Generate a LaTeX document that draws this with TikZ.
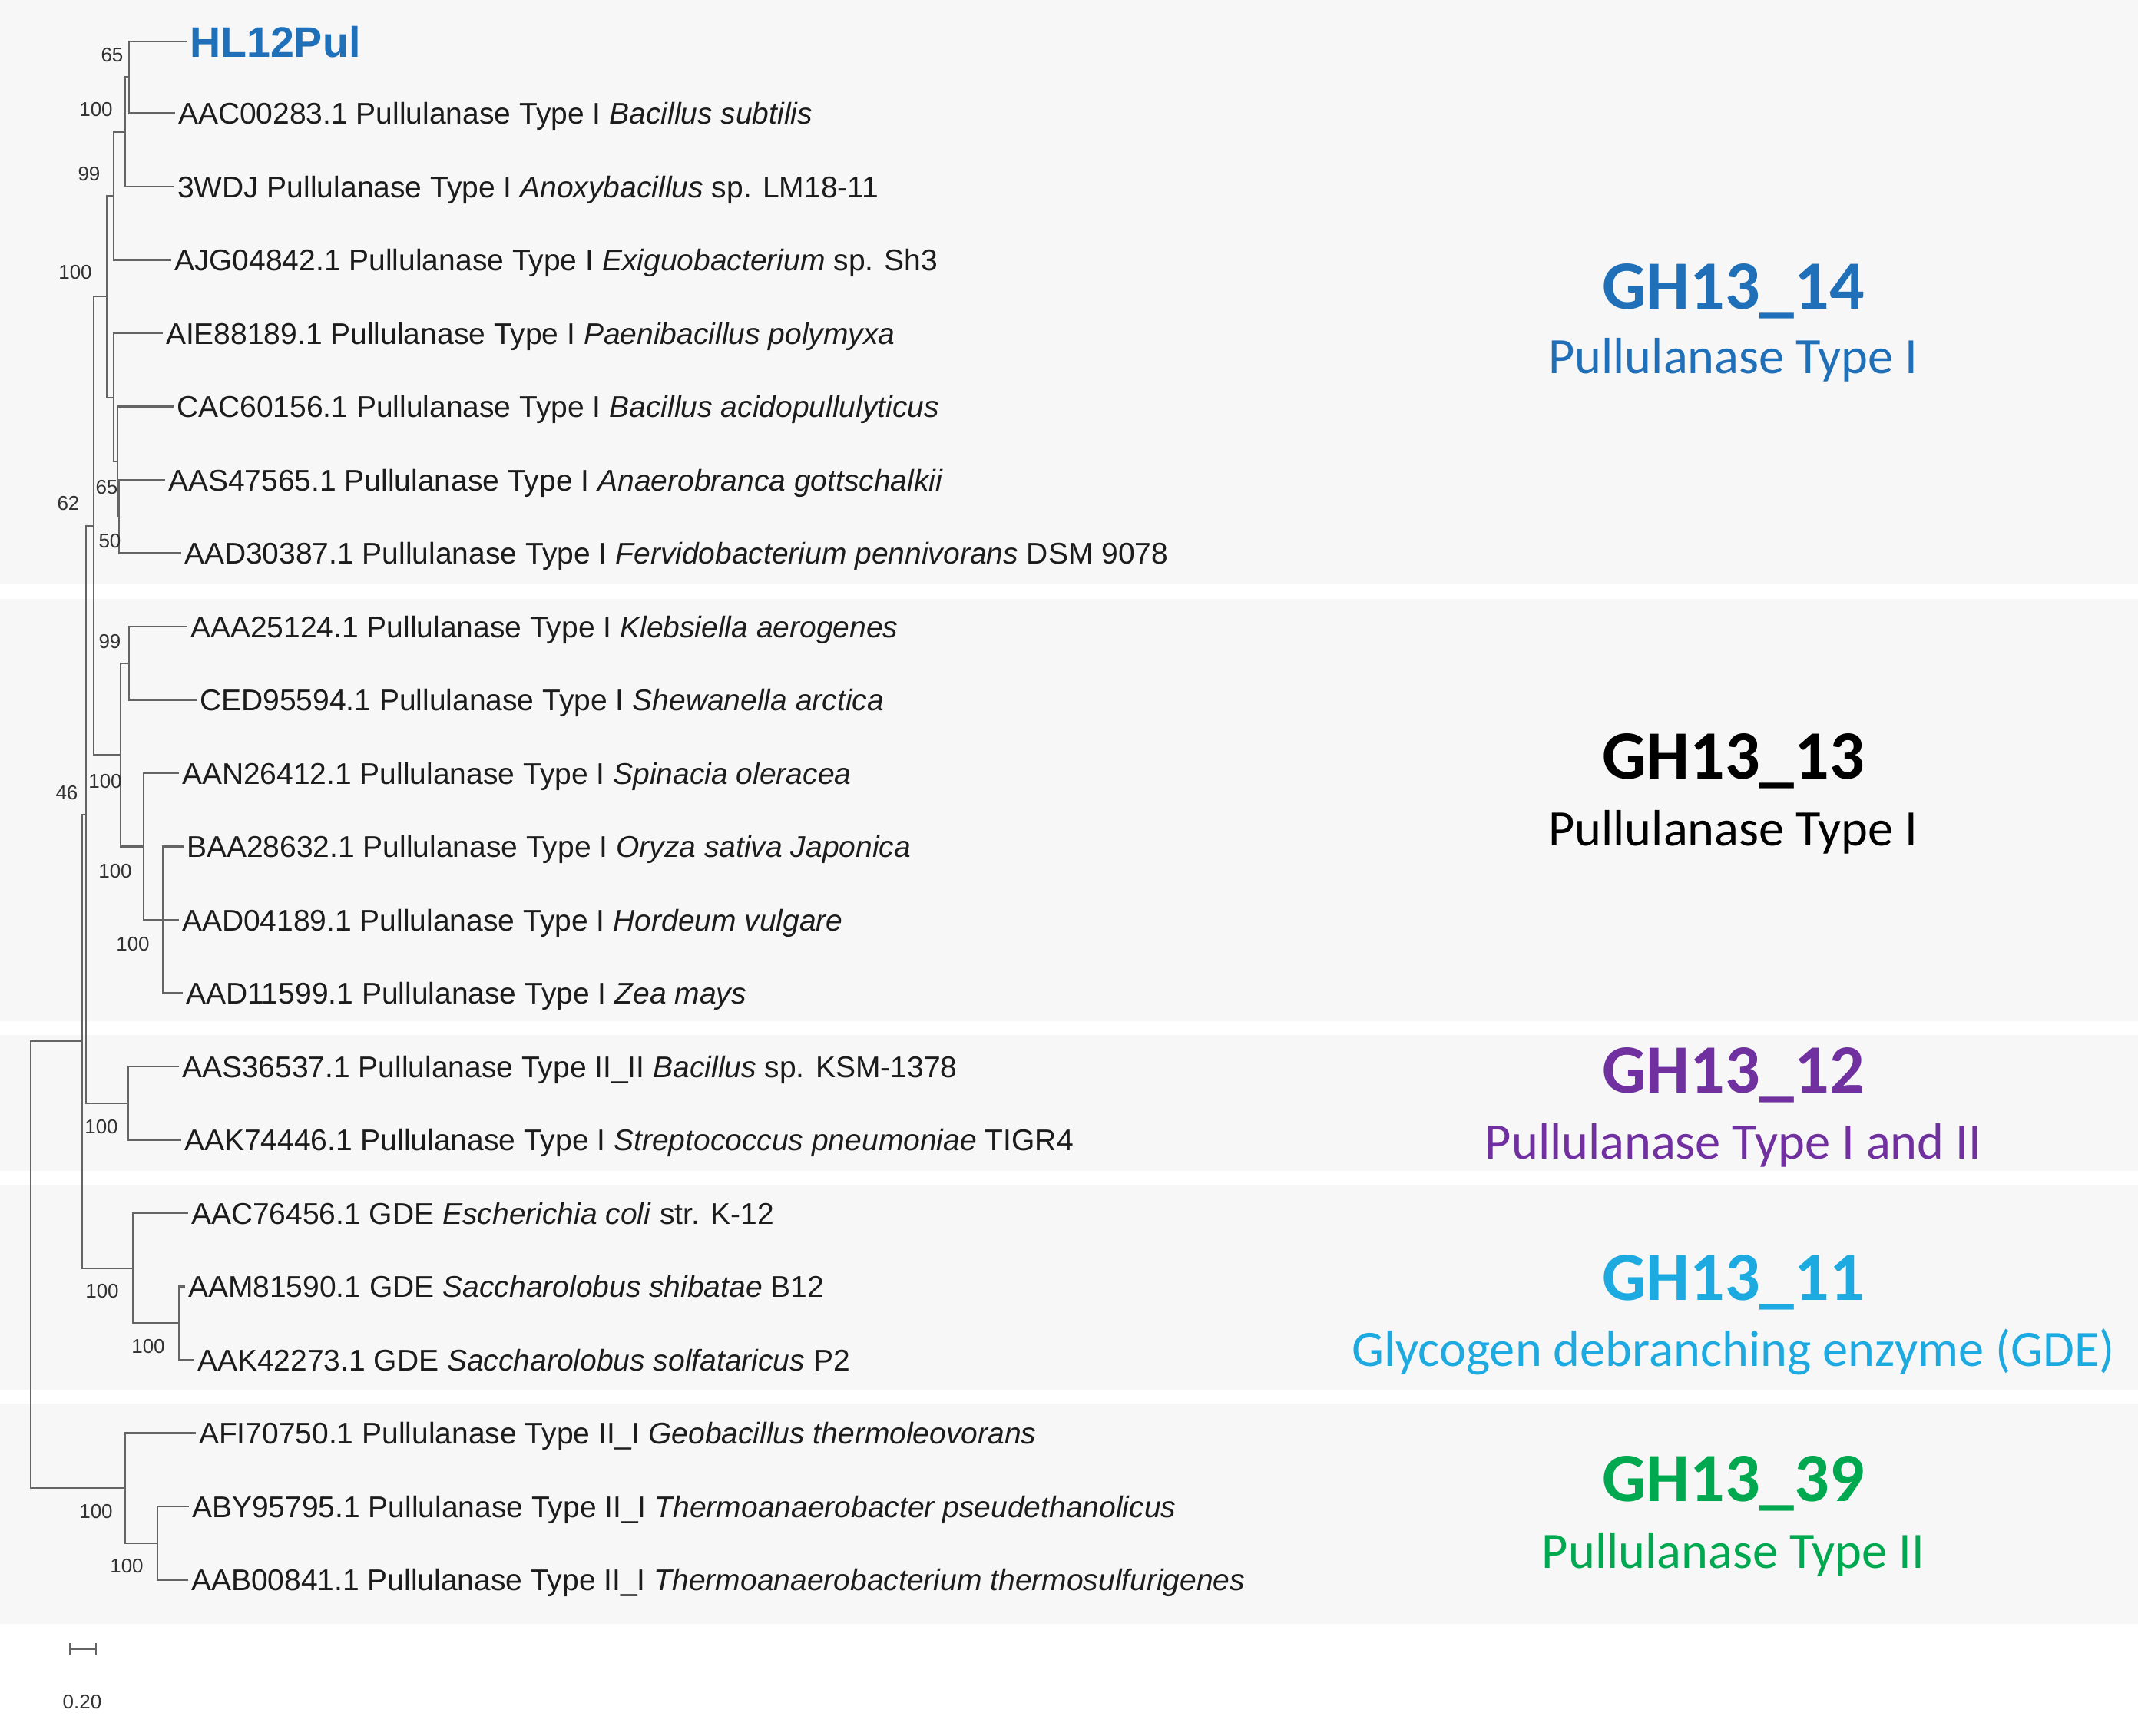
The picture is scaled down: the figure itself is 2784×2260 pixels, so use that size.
\documentclass[tikz,border=0pt]{standalone}
\usepackage{fontspec}
\setmainfont{Liberation Sans}
\newfontfamily\carlitofont{Carlito}
\definecolor{bandgray}{RGB}{247,247,247}
\definecolor{brgray}{RGB}{100,100,100}
\definecolor{txt}{RGB}{28,28,28}
\definecolor{bsgray}{RGB}{50,50,50}
\definecolor{cblue}{RGB}{31,112,184}
\definecolor{ccyan}{RGB}{28,170,225}
\definecolor{cpurple}{RGB}{112,48,160}
\definecolor{cgreen}{RGB}{0,168,80}
\begin{document}
\begin{tikzpicture}[x=0.25pt,y=-0.25pt,
  br/.style={draw=brgray,line width=0.55pt},
  leaf/.style={anchor=west,inner sep=0pt,outer xsep=1pt,outer ysep=0pt,text=txt,
    font=\fontsize{9.75}{11}\selectfont,text height=7pt,text depth=0pt},
  bs/.style={inner sep=0pt,text=bsgray,font=\fontsize{6.5}{7}\selectfont},
  ctitle/.style={inner sep=0pt,font=\carlitofont\bfseries\fontsize{22.5}{26}\selectfont,text height=14.5pt,text depth=0pt},
  csub/.style={inner sep=0pt,font=\carlitofont\fontsize{16.6}{19}\selectfont,text height=10.7pt,text depth=0pt}]
\useasboundingbox (0,0) rectangle (2784,2260);
\fill[white] (0,0) rectangle (2784,2260);
% background bands
\fill[bandgray] (0,0) rectangle (2784,760);
\fill[bandgray] (0,780) rectangle (2784,1330);
\fill[bandgray] (0,1348) rectangle (2784,1525);
\fill[bandgray] (0,1543) rectangle (2784,1810);
\fill[bandgray] (0,1828) rectangle (2784,2115);

% leaves
\node[leaf,text height=10pt,text=cblue,font=\bfseries\fontsize{13.9}{16}\selectfont] (l0) at (243,54) {HL12Pul};
\node[leaf] (l1) at (228,147.5) {AAC00283.1 Pullulanase Type I \textit{Bacillus subtilis}};
\node[leaf] (l2) at (227,243) {3WDJ Pullulanase Type I \textit{Anoxybacillus} sp. LM18-11};
\node[leaf] (l3) at (223,338.5) {AJG04842.1 Pullulanase Type I \textit{Exiguobacterium} sp. Sh3};
\node[leaf] (l4) at (212,434) {AIE88189.1 Pullulanase Type I \textit{Paenibacillus polymyxa}};
\node[leaf] (l5) at (226,529.5) {CAC60156.1 Pullulanase Type I \textit{Bacillus acidopullulyticus}};
\node[leaf] (l6) at (215,625) {AAS47565.1 Pullulanase Type I \textit{Anaerobranca gottschalkii}};
\node[leaf] (l7) at (236,720.5) {AAD30387.1 Pullulanase Type I \textit{Fervidobacterium pennivorans} DSM 9078};
\node[leaf] (l8) at (244,816) {AAA25124.1 Pullulanase Type I \textit{Klebsiella aerogenes}};
\node[leaf] (l9) at (256,911.5) {CED95594.1 Pullulanase Type I \textit{Shewanella arctica}};
\node[leaf] (l10) at (233,1007) {AAN26412.1 Pullulanase Type I \textit{Spinacia oleracea}};
\node[leaf] (l11) at (239,1102.5) {BAA28632.1 Pullulanase Type I \textit{Oryza sativa Japonica}};
\node[leaf] (l12) at (233,1198) {AAD04189.1 Pullulanase Type I \textit{Hordeum vulgare}};
\node[leaf] (l13) at (238,1293.5) {AAD11599.1 Pullulanase Type I \textit{Zea mays}};
\node[leaf] (l14) at (233,1389) {AAS36537.1 Pullulanase Type II\_II \textit{Bacillus} sp. KSM-1378};
\node[leaf] (l15) at (236,1484.5) {AAK74446.1 Pullulanase Type I \textit{Streptococcus pneumoniae} TIGR4};
\node[leaf] (l16) at (245,1580) {AAC76456.1 GDE \textit{Escherichia coli} str. K-12};
\node[leaf] (l17) at (241,1675.5) {AAM81590.1 GDE \textit{Saccharolobus shibatae} B12};
\node[leaf] (l18) at (253,1771) {AAK42273.1 GDE \textit{Saccharolobus solfataricus} P2};
\node[leaf] (l19) at (255,1866.5) {AFI70750.1 Pullulanase Type II\_I \textit{Geobacillus thermoleovorans}};
\node[leaf] (l20) at (246,1962) {ABY95795.1 Pullulanase Type II\_I \textit{Thermoanaerobacter pseudethanolicus}};
\node[leaf] (l21) at (245,2057.5) {AAB00841.1 Pullulanase Type II\_I \textit{Thermoanaerobacterium thermosulfurigenes}};

% internal nodes
\coordinate (a1) at (168,99.75);
\coordinate (a2) at (163,171.4);
\coordinate (a3) at (148,255);
\coordinate (b4) at (155,672.75);
\coordinate (b3) at (153,601.1);
\coordinate (b2) at (148,517.6);
\coordinate (a4) at (139,386.3);
\coordinate (c2) at (168,863.75);
\coordinate (c4) at (212,1198);
\coordinate (c3) at (187,1102.5);
\coordinate (c1) at (157,983.1);
\coordinate (d1) at (122,684.7);
\coordinate (e1) at (167,1436.75);
\coordinate (d2) at (112,1060.7);
\coordinate (f2) at (233,1723.25);
\coordinate (f1) at (173,1651.6);
\coordinate (d3) at (107,1356.2);
\coordinate (g2) at (205,2009.75);
\coordinate (g1) at (163,1938.1);
\coordinate (root) at (40,1647.2);

% branches
\draw[br] (a1) |- (l0.west);
\draw[br] (a1) |- (l1.west);
\draw[br] (a2) |- (a1);
\draw[br] (a2) |- (l2.west);
\draw[br] (a3) |- (a2);
\draw[br] (a3) |- (l3.west);
\draw[br] (b4) |- (l6.west);
\draw[br] (b4) |- (l7.west);
\draw[br] (b3) |- (l5.west);
\draw[br] (b3) |- (b4);
\draw[br] (b2) |- (l4.west);
\draw[br] (b2) |- (b3);
\draw[br] (a4) |- (a3);
\draw[br] (a4) |- (b2);
\draw[br] (c2) |- (l8.west);
\draw[br] (c2) |- (l9.west);
\draw[br] (c4) |- (l11.west);
\draw[br] (c4) |- (l12.west);
\draw[br] (c4) |- (l13.west);
\draw[br] (c3) |- (l10.west);
\draw[br] (c3) |- (c4);
\draw[br] (c1) |- (c2);
\draw[br] (c1) |- (c3);
\draw[br] (d1) |- (a4);
\draw[br] (d1) |- (c1);
\draw[br] (e1) |- (l14.west);
\draw[br] (e1) |- (l15.west);
\draw[br] (d2) |- (d1);
\draw[br] (d2) |- (e1);
\draw[br] (f2) |- (l17.west);
\draw[br] (f2) |- (l18.west);
\draw[br] (f1) |- (l16.west);
\draw[br] (f1) |- (f2);
\draw[br] (d3) |- (d2);
\draw[br] (d3) |- (f1);
\draw[br] (g2) |- (l20.west);
\draw[br] (g2) |- (l21.west);
\draw[br] (g1) |- (l19.west);
\draw[br] (g1) |- (g2);
\draw[br] (root) |- (d3);
\draw[br] (root) |- (g1);

% bootstrap values
\node[bs] (bs1) at (146,72) {65};
\node[bs] (bs2) at (125,143) {100};
\node[bs] (bs3) at (116,227) {99};
\node[bs] (bs4) at (98,355) {100};
\node[bs] (bs5) at (139,635) {65};
\node[bs] (bs6) at (143,705) {50};
\node[bs] (bs7) at (89,656) {62};
\node[bs] (bs8) at (143,836) {99};
\node[bs] (bs9) at (137,1018) {100};
\node[bs] (bs10) at (87,1033) {46};
\node[bs] (bs11) at (150,1135) {100};
\node[bs] (bs12) at (173,1230) {100};
\node[bs] (bs13) at (132,1468) {100};
\node[bs] (bs14) at (133,1682) {100};
\node[bs] (bs15) at (193,1754) {100};
\node[bs] (bs16) at (125,1969) {100};
\node[bs] (bs17) at (165,2040) {100};

% scale bar
\coordinate (sb1) at (91,2148);
\coordinate (sb2) at (125,2148);
\draw[br] (sb1) -- (sb2);
\draw[br] ([yshift=-2pt]sb1) -- ([yshift=2pt]sb1);
\draw[br] ([yshift=-2pt]sb2) -- ([yshift=2pt]sb2);
\node[bs] (sbl) at (107,2217) {0.20};

% clade labels
\node[ctitle,text=cblue] (t14) at (2257,373) {GH13\_14};
\node[csub,text=cblue] (s14) at (2257,465) {Pullulanase Type I};
\node[ctitle,text=black] (t13) at (2257,985) {GH13\_13};
\node[csub,text=black] (s13) at (2257,1080) {Pullulanase Type I};
\node[ctitle,text=cpurple] (t12) at (2257,1394) {GH13\_12};
\node[csub,text=cpurple] (s12) at (2257,1488) {Pullulanase Type I and II};
\node[ctitle,text=ccyan] (t11) at (2257,1664) {GH13\_11};
\node[csub,text=ccyan] (s11) at (2257,1758) {Glycogen debranching enzyme (GDE)};
\node[ctitle,text=cgreen] (t39) at (2257,1926) {GH13\_39};
\node[csub,text=cgreen] (s39) at (2257,2021) {Pullulanase Type II};
\end{tikzpicture}
\end{document}
